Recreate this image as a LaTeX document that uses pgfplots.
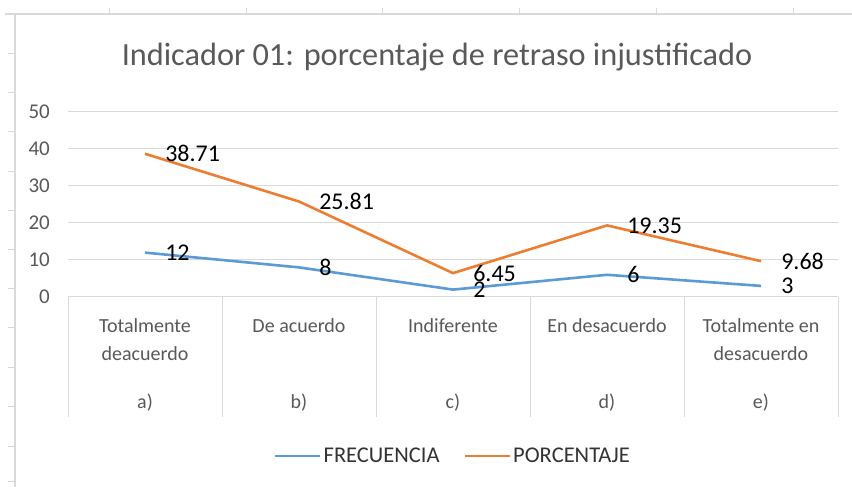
\documentclass[border=0pt]{standalone}
\usepackage{pgfplots}
\pgfplotsset{compat=1.18}
\usepackage{fontspec}
\setmainfont{Carlito}
\definecolor{blu}{HTML}{5B9BD5}
\definecolor{ora}{HTML}{ED7D31}
\definecolor{txt}{HTML}{595959}
\definecolor{grd}{HTML}{D9D9D9}
\begin{document}
\begin{tikzpicture}[x=1pt,y=1pt]
\useasboundingbox (0,0) rectangle (852,487);
\fill[white] (0,0) rectangle (852,487);
% spreadsheet cell borders behind the chart
\draw[grd, line width=1.2pt] (5,473) -- (852,473);
\draw[grd, line width=1.2pt] (15,473) -- (15,0);
\foreach \x in {109,246,382,519,656,793} \draw[grd,line width=1pt] (\x,473) -- (\x,479);
\foreach \y in {54,93,132,172,211,250,289,328,368,407,447,482} \draw[grd,line width=1pt] (15,487-\y) -- (8,487-\y);
% title
\node[anchor=base, text=txt, font=\fontsize{32.3}{36}\selectfont] at (437,421) {Indicador 01: porcentaje de retraso injustificado};
\begin{axis}[
  at={(68pt,190pt)}, anchor=south west,
  scale only axis, width=770pt, height=185pt,
  xmin=-0.5, xmax=4.5, ymin=0, ymax=50,
  ytick={0,10,...,50},
  xtick={0,...,4},
  xticklabels={
    {Totalmente\\deacuerdo\\[20pt]a)},
    {De acuerdo\\~\\[20pt]b)},
    {Indiferente\\~\\[20pt]c)},
    {En desacuerdo\\~\\[20pt]d)},
    {Totalmente en\\desacuerdo\\[20pt]e)}},
  axis line style={draw=none},
  major tick length=0pt,
  ymajorgrids, grid style={grd, line width=1pt},
  /pgf/number format/assume math mode=true,
  yticklabel style={text=txt, font=\fontsize{21}{24}\selectfont, anchor=east, inner sep=0pt},
  yticklabel shift=18pt,
  xticklabel style={text=txt, font=\fontsize{20}{28}\selectfont, align=center, anchor=north, inner sep=0pt, yshift=-21pt},
  clip=false,
  nodes near coords,
  every node near coord/.append style={anchor=west, inner sep=0pt, xshift=19pt, text=black, font=\fontsize{24}{28}\selectfont},
  legend style={at={(axis description cs:0.5,-0.859)}, anchor=center, draw=none, fill=none,
    legend columns=2, font=\fontsize{22.5}{26}\selectfont, text=black!80,
    /tikz/every even column/.append style={column sep=22pt}},
  legend image code/.code={\draw[#1, line width=2.6pt] (0pt,0pt) -- (45pt,0pt);},
]
\addplot[blu, line width=2.6pt] coordinates {(0,12) (1,8) (2,2) (3,6) (4,3)};
\addlegendentry{FRECUENCIA}
\addplot[ora, line width=2.6pt] coordinates {(0,38.71) (1,25.81) (2,6.45) (3,19.35) (4,9.68)};
\addlegendentry{PORCENTAJE}
\foreach \k in {-0.5,0.5,1.5,2.5,3.5,4.5} {
  \edef\temp{\noexpand\draw[grd, line width=1pt] (axis cs:\k,0) -- ++(0pt,-120pt);}
  \temp
}
\end{axis}
\end{tikzpicture}
\end{document}
